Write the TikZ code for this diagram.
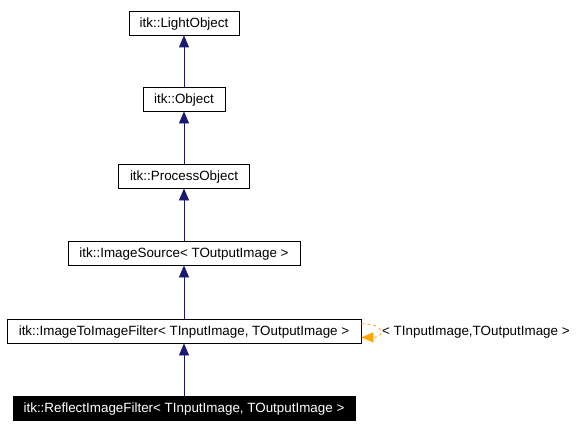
\documentclass[tikz,border=0pt]{standalone}
\usepackage{fontspec}
\setmainfont{Liberation Sans}
\usetikzlibrary{arrows.meta}
\definecolor{edgeblue}{HTML}{191970}
\definecolor{looporange}{HTML}{FFA500}
\begin{document}
\begin{tikzpicture}[x=1pt,y=-1pt,
  lab/.style={font=\fontsize{13.4}{15}\selectfont,text height=11.4pt,text depth=2.6pt},
  cls/.style={lab,draw=black,line width=0.8pt,fill=white,minimum height=24pt,inner sep=0pt},
  cur/.style={cls,draw=black,fill=black,text=white},
  inh/.style={draw=edgeblue,line width=0.8pt,-{Triangle[length=12pt,width=10pt]}},
  tmpl/.style={draw=looporange,line width=0.8pt,dashed,-{Triangle[length=12pt,width=10pt]}}]
\useasboundingbox (0,0) rectangle (580,428);
\node[cls,minimum width=110pt] (lo) at (184,23) {itk::LightObject};
\node[cls,minimum width=82pt] (ob) at (184,99) {itk::Object};
\node[cls,minimum width=131pt] (po) at (184,176) {itk::ProcessObject};
\node[cls,minimum width=232pt] (is) at (184,253) {itk::ImageSource< TOutputImage >};
\node[cls,minimum width=354pt] (itf) at (184,331) {itk::ImageToImageFilter< TInputImage, TOutputImage >};
\node[cur,minimum width=342pt] (rf) at (184,408) {itk::ReflectImageFilter< TInputImage, TOutputImage >};
\node[lab,anchor=west,inner sep=0pt] (lbl) at (382,331) {< TInputImage,TOutputImage >};
\draw[inh] (ob.north) -- (lo.south);
\draw[inh] (po.north) -- (ob.south);
\draw[inh] (is.north) -- (po.south);
\draw[inh] (itf.north) -- (is.south);
\draw[inh] (rf.north) -- (itf.south);
\coordinate (ls) at ([yshift=-5pt]itf.north east);
\coordinate (le) at ([yshift=6pt]itf.south east);
\draw[tmpl] (ls) .. controls ([xshift=24pt]ls) and ([xshift=24pt]le) .. (le);
\end{tikzpicture}
\end{document}
